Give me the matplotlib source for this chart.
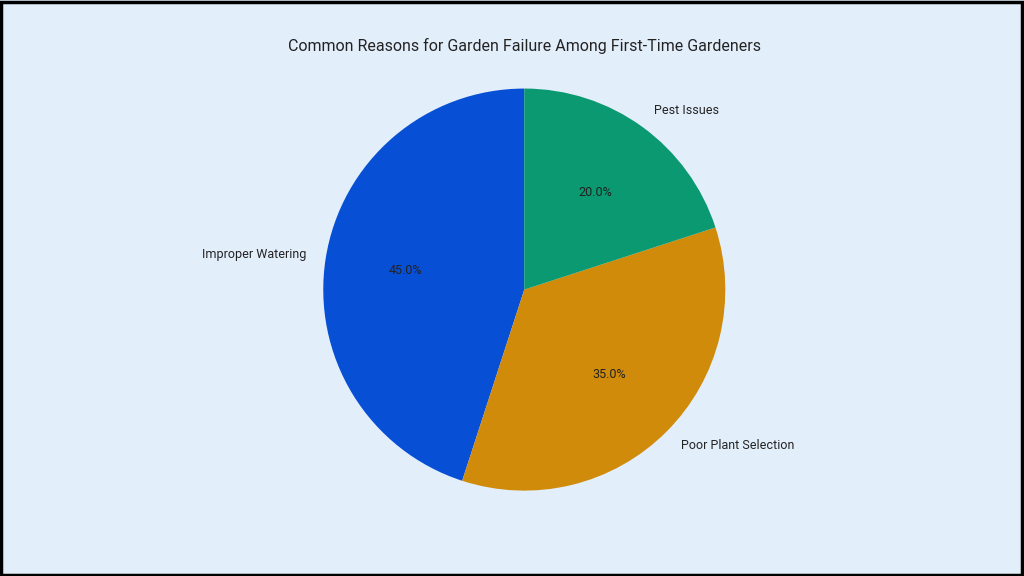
import matplotlib
matplotlib.use("Agg")
import matplotlib.pyplot as plt
from matplotlib.patches import Rectangle

categories = ["Improper Watering", "Poor Plant Selection", "Pest Issues"]
values = [45, 35, 20]
colors = ["#074FD5", "#D08B0B", "#0A9970"]

plt.rcParams["font.family"] = "Roboto"
fig = plt.figure(figsize=(10.24, 5.76), dpi=100, facecolor="#E3EEFB")
ax = fig.add_axes([0.2666, 0.061, 0.4908, 0.8725])
ax.set_facecolor("#E3EEFB")
ax.pie(values, labels=categories, colors=colors, startangle=90, counterclock=True,
       autopct="%1.1f%%", pctdistance=0.6, labeldistance=1.1,
       textprops={"fontsize": 9, "color": "#222222"})
ax.set_xlim(-1.25, 1.25)
ax.set_ylim(-1.25, 1.25)
ax.set_aspect("equal")
fig.text(0.512, 0.92, "Common Reasons for Garden Failure Among First-Time Gardeners",
         ha="center", va="center", fontsize=11.5, color="#222222")
fig.patches.append(Rectangle((0.001, 0.002), 0.997, 0.995, transform=fig.transFigure,
                             fill=False, edgecolor="black", linewidth=2.5))
fig.savefig("out.png", dpi=100, facecolor=fig.get_facecolor())
